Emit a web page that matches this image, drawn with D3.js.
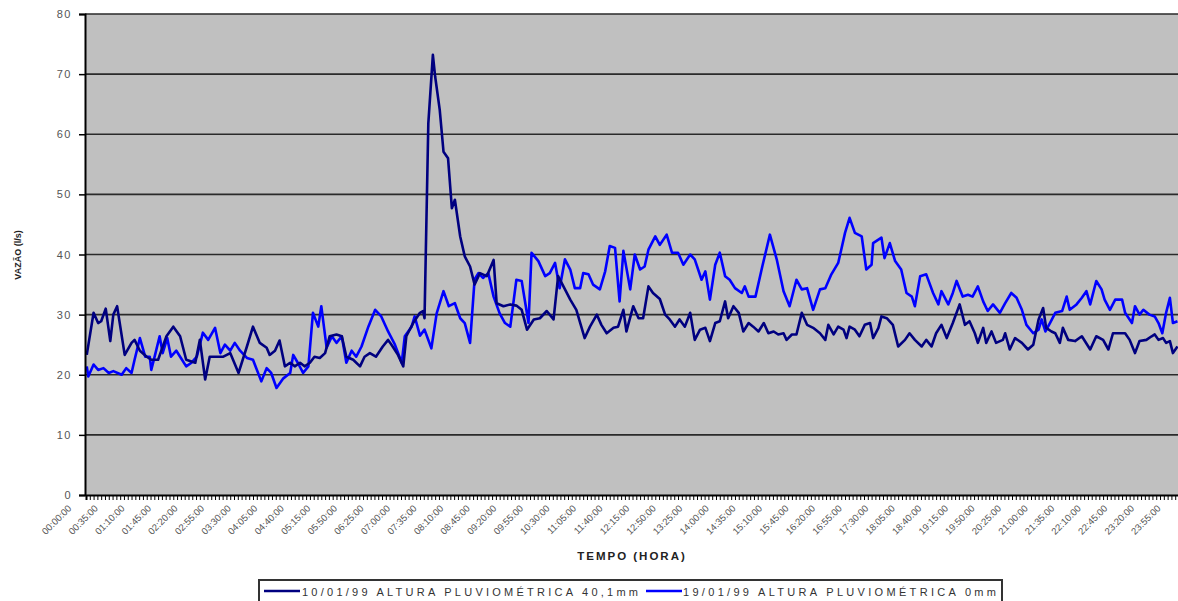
<!DOCTYPE html>
<html>
<head>
<meta charset="utf-8">
<script src="https://cdn.jsdelivr.net/npm/d3@7"></script>
<style>
  body { margin: 0; background: #fff; }
  svg { display: block; font-family: "Liberation Sans", Arial, sans-serif; }
</style>
</head>
<body>
<div id="chart"></div>
<script>
// 5 min readings, [minute of day, l/s]
var chuva = [
  [1,23.3],[10,30.3],[16,28.6],[20,28.9],[26,31],[32,25.6],[36,30],[41,31.4],[51,23.3],[60,25.3],
  [64,25.8],[71,24],[80,23],[86,22.5],[95,22.5],[106,26.4],[115,28],[124,26.4],[132,22.5],[144,22],
  [150,25.8],[157,19.2],[163,23],[172,23],[181,23],[190,23.6],[201,20.3],[212,24.7],[220,28],[229,25.3],
  [238,24.5],[242,23.3],[249,24],[255,25.7],[262,21.4],[269,22],[275,21.4],[282,22],[288,21.4],[295,22],
  [301,23],[308,22.8],[315,23.6],[321,26.4],[330,26.7],[337,26.4],[343,23],[352,22.5],[361,21.4],[367,23],
  [374,23.6],[382,23],[391,24.7],[398,25.8],[404,24.7],[411,23.3],[418,21.4],[422,26.4],[431,28.6],[440,30.3],
  [444,30.6],[446,29.4],[451,61.8],[457,73.2],[460,69.6],[466,64.1],[471,57.1],[477,56],[482,47.7],[486,49.1],
  [493,43],[499,39.7],[506,38],[512,35],[519,36.9],[528,36.4],[537,39.1],[541,31.9],[550,31.4],[559,31.7],
  [567,31.5],[574,30.8],[581,27.5],[590,29.2],[598,29.4],[607,30.6],[616,29.2],[622,36.4],[629,34.7],[638,32.5],
  [646,30.8],[657,26.1],[664,28],[673,30],[679,28.3],[686,26.9],[695,27.8],[701,28],[708,30.8],[712,27.2],
  [721,31.4],[728,29.4],[734,29.4],[741,34.7],[747,33.6],[756,32.6],[763,30],[769,29.2],[776,28],[782,29.2],
  [789,28],[796,30.3],[802,25.8],[809,27.5],[816,27.8],[822,25.6],[829,28.6],[835,28.9],[842,32.2],[846,29.4],
  [853,31.4],[860,30.3],[866,27.2],[873,28.6],[879,28],[886,27.2],[893,28.6],[899,26.9],[906,27.2],[912,26.7],
  [919,26.9],[923,25.8],[930,26.7],[936,26.7],[943,30.3],[950,28.3],[958,27.8],[967,26.9],[974,25.8],[978,28.3],
  [985,26.7],[991,28],[998,27.5],[1002,26.1],[1006,28],[1013,27.5],[1019,26.4],[1026,28.3],[1033,28.6],[1037,26.1],
  [1044,27.8],[1048,29.7],[1055,29.4],[1063,28.3],[1070,24.7],[1079,25.8],[1085,26.9],[1092,25.8],[1101,24.7],[1107,25.8],
  [1114,24.7],[1120,26.9],[1127,28.3],[1134,26.1],[1142,28.6],[1151,31.7],[1158,28.3],[1164,28.9],[1171,26.9],[1175,25.3],
  [1182,27.8],[1186,25.3],[1193,27.2],[1199,25.3],[1208,25.8],[1211,26.9],[1217,24.2],[1224,26.1],[1233,25.3],[1241,24.2],
  [1248,25],[1255,29.2],[1261,31.1],[1265,27.8],[1272,27.2],[1277,26.9],[1283,25.3],[1287,27.8],[1294,25.8],[1303,25.6],
  [1312,26.4],[1323,24.2],[1331,26.4],[1340,25.8],[1347,24.2],[1353,26.9],[1360,26.9],[1369,26.9],[1375,25.8],[1382,23.6],
  [1388,25.6],[1397,25.8],[1404,26.4],[1408,26.7],[1413,25.8],[1419,26.1],[1423,25.3],[1428,25.6],[1432,23.6],[1438,24.7]
];

var seco = [
  [1,21.4],[3,19.7],[10,21.7],[16,20.8],[23,21.1],[30,20.3],[36,20.6],[47,20],[53,21.1],[60,20.3],
  [64,22.5],[71,26.1],[78,23],[84,23],[86,20.8],[91,23.3],[97,26.4],[101,23.6],[107,26.1],[112,23],
  [119,24],[124,23],[132,21.4],[139,22],[146,23],[154,27],[161,25.8],[170,27.8],[177,23.6],[183,25],
  [190,24],[196,25.3],[203,24],[212,22.8],[220,22.5],[231,18.9],[238,21.1],[244,20.3],[251,17.8],[260,19.4],
  [269,20.3],[273,23.3],[279,22],[286,20.3],[293,21.4],[299,30.3],[306,28],[310,31.4],[317,24.5],[324,26.4],
  [330,25.3],[337,26.4],[343,22],[350,24],[356,23],[363,24.7],[372,28],[381,30.8],[389,29.7],[398,27.2],
  [407,25],[416,22],[420,26.4],[429,28],[433,29.7],[440,26.5],[446,27.5],[455,24.4],[462,30.2],[471,33.9],
  [478,31.4],[486,31.9],[493,29.4],[499,28.6],[506,25.3],[512,35.9],[517,36.9],[523,36.1],[530,36.9],[537,33],
  [545,30.2],[552,28.6],[559,28],[567,35.8],[574,35.6],[583,28.6],[587,40.3],[596,38.9],[605,36.4],[611,36.9],
  [618,38.6],[624,34.4],[631,39.2],[638,37.5],[644,34.4],[651,34.4],[655,36.9],[662,36.7],[668,35],[677,34.2],
  [684,37.2],[690,41.4],[697,41.1],[703,32.2],[708,40.6],[717,34.2],[723,40],[730,37.5],[736,38],[741,40.8],
  [750,43],[756,41.6],[765,43.3],[772,40.3],[780,40.3],[787,38.3],[796,40],[802,39.2],[811,35.8],[816,37.2],
  [822,32.5],[829,38.3],[835,40.3],[842,36.4],[848,35.8],[855,34.4],[864,33.6],[868,34.7],[873,33],[882,33],
  [891,38],[901,43.3],[910,39.2],[919,33.9],[927,31.4],[936,35.8],[943,34.2],[950,34.4],[958,30.8],[967,34.2],
  [974,34.4],[982,36.7],[991,38.6],[995,40.8],[1000,43.6],[1006,46.1],[1013,43.6],[1022,43],[1028,37.5],[1035,38.3],
  [1037,41.9],[1048,42.8],[1052,39.4],[1059,41.9],[1066,38.9],[1074,37.5],[1081,33.6],[1088,33],[1092,31.4],[1099,36.4],
  [1107,36.7],[1116,33.6],[1123,31.7],[1127,33.9],[1136,31.7],[1142,33.6],[1147,35.6],[1155,33],[1162,33.3],[1168,33],
  [1175,34.7],[1182,32.2],[1188,30.6],[1195,31.7],[1204,30.3],[1211,31.9],[1219,33.6],[1226,32.8],[1233,30.8],[1239,28.3],
  [1248,26.9],[1255,27.5],[1259,29.2],[1264,27.2],[1270,28.6],[1277,30.3],[1286,30.6],[1292,33],[1296,30.8],[1305,31.7],
  [1312,32.8],[1318,33.9],[1323,31.7],[1331,35.6],[1338,34.2],[1342,32.5],[1349,30.8],[1356,32.5],[1365,32.5],[1369,30.3],
  [1378,28.6],[1382,31.4],[1388,30],[1393,30.8],[1401,30],[1408,29.7],[1413,28.6],[1418,26.9],[1423,30.3],[1428,32.8],
  [1432,28.6],[1438,28.9]
];

var tickLabels = ["00:00:00","00:35:00","01:10:00","01:45:00","02:20:00","02:55:00","03:30:00","04:05:00",
  "04:40:00","05:15:00","05:50:00","06:25:00","07:00:00","07:35:00","08:10:00","08:45:00","09:20:00",
  "09:55:00","10:30:00","11:05:00","11:40:00","12:15:00","12:50:00","13:25:00","14:00:00","14:35:00",
  "15:10:00","15:45:00","16:20:00","16:55:00","17:30:00","18:05:00","18:40:00","19:15:00","19:50:00",
  "20:25:00","21:00:00","21:35:00","22:10:00","22:45:00","23:20:00","23:55:00"];

var yTicks = [0, 10, 20, 30, 40, 50, 60, 70, 80];

var legendNames = ["10/01/99 ALTURA PLUVIOMÉTRICA 40,1mm", "19/01/99 ALTURA PLUVIOMÉTRICA 0mm"];

var W = 1178, H = 601;
var padL = 85, padT = 14, padR = 1178, padB = 495;

var svg = d3.select('#chart').append('svg')
  .attr('width', W)
  .attr('height', H);

svg.append('rect').attr('width', W).attr('height', H).attr('fill', '#fff');

var x = d3.scaleLinear().domain([0, 1440]).range([padL + 1, padR + 1]);
var y = d3.scaleLinear().domain([0, 80]).range([padB, padT]);

function toMin(s) {
  var p = s.split(':');
  return +p[0] * 60 + +p[1];
}

// plot area
svg.append('rect')
  .attr('x', padL).attr('y', padT)
  .attr('width', padR - padL).attr('height', padB - padT)
  .attr('fill', '#c0c0c0');

// gridlines
svg.append('g')
  .selectAll('line')
  .data(yTicks.filter(function(d) { return d > 0; }))
  .enter().append('line')
    .attr('x1', padL).attr('x2', padR)
    .attr('y1', function(d) { return y(d); })
    .attr('y2', function(d) { return y(d); })
    .attr('stroke', '#2a2a2a')
    .attr('stroke-width', 1.6);

// lines
var line = d3.line()
  .x(function(d) { return x(d[0]); })
  .y(function(d) { return y(d[1]); });

svg.append('path')
  .datum(seco)
  .attr('fill', 'none')
  .attr('stroke', '#0000ff')
  .attr('stroke-width', 2.6)
  .attr('stroke-linejoin', 'round')
  .attr('d', line);

svg.append('path')
  .datum(chuva)
  .attr('fill', 'none')
  .attr('stroke', '#000080')
  .attr('stroke-width', 2.6)
  .attr('stroke-linejoin', 'round')
  .attr('d', line);

// y axis
var yAxis = d3.axisLeft(y).tickValues(yTicks).tickSize(6).tickPadding(7);
var gy = svg.append('g')
  .attr('transform', 'translate(' + padL + ',0)')
  .call(yAxis);
gy.select('.domain').attr('stroke', '#000').attr('stroke-width', 2);
gy.selectAll('.tick line').attr('stroke', '#000').attr('stroke-width', 1.5);
gy.selectAll('.tick text')
  .attr('font-size', 11)
  .attr('font-family', '"Liberation Sans", Arial, sans-serif')
  .attr('letter-spacing', 1.5)
  .attr('fill', '#555');

// x axis: a tick for every 5 min reading
var minorTicks = d3.range(0, 1441, 5);
var xAxis = d3.axisBottom(x).tickValues(minorTicks).tickSize(5).tickFormat('');
var gx = svg.append('g')
  .attr('transform', 'translate(0,' + padB + ')')
  .call(xAxis);
gx.select('.domain').attr('stroke', '#000').attr('stroke-width', 2);
gx.selectAll('.tick line').attr('stroke', '#000').attr('stroke-width', 1);

svg.append('g')
  .selectAll('text')
  .data(tickLabels)
  .enter().append('text')
    .attr('transform', function(d) {
      return 'translate(' + (x(toMin(d)) - 14) + ',' + (padB + 14) + ') rotate(-45)';
    })
    .attr('text-anchor', 'end')
    .attr('font-size', 9.5)
    .attr('fill', '#555')
    .text(function(d) { return d; });

// axis titles
svg.append('text')
  .attr('x', 632).attr('y', 560)
  .attr('text-anchor', 'middle')
  .attr('font-size', 11.5)
  .attr('font-weight', 'bold')
  .attr('letter-spacing', 2)
  .attr('fill', '#222')
  .text('TEMPO (HORA)');

svg.append('text')
  .attr('transform', 'translate(21,255) rotate(-90)')
  .attr('text-anchor', 'middle')
  .attr('font-size', 9)
  .attr('font-weight', 'bold')
  .attr('fill', '#222')
  .text('VAZÃO (l/s)');

// legend
var lg = svg.append('g');
lg.append('rect')
  .attr('x', 259).attr('y', 580)
  .attr('width', 743).attr('height', 26)
  .attr('fill', '#fff')
  .attr('stroke', '#333')
  .attr('stroke-width', 2);

var legendItems = [
  { name: legendNames[0], color: '#000080', x0: 264, tx: 302, tw: 336 },
  { name: legendNames[1], color: '#0000ff', x0: 646, tx: 683, tw: 313 }
];

legendItems.forEach(function(it) {
  lg.append('line')
    .attr('x1', it.x0).attr('x2', it.x0 + 36)
    .attr('y1', 591).attr('y2', 591)
    .attr('stroke', it.color)
    .attr('stroke-width', 2.6);
  lg.append('text')
    .attr('x', it.tx).attr('y', 595.5)
    .attr('font-size', 11)
    .attr('fill', '#333')
    .attr('textLength', it.tw)
    .attr('lengthAdjust', 'spacing')
    .text(it.name);
});
</script>
</body>
</html>
